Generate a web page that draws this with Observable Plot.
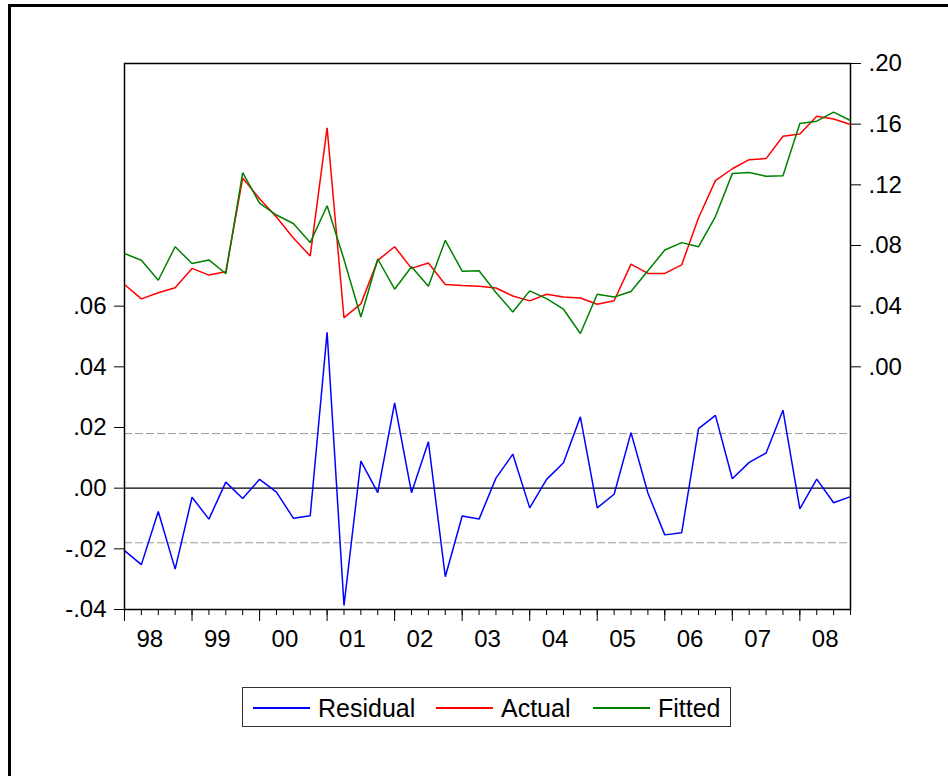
<!DOCTYPE html>
<html>
<head>
<meta charset="utf-8">
<script src="https://cdn.jsdelivr.net/npm/d3@7"></script>
<script src="https://cdn.jsdelivr.net/npm/@observablehq/plot@0.6"></script>
<style>
  html, body { margin: 0; padding: 0; background: #fff; overflow: hidden; }
  #page { position: relative; width: 948px; height: 776px; overflow: hidden; font-family: "Liberation Sans", Arial, sans-serif; }
  #border { position: absolute; left: 8px; top: 4px; width: 1200px; height: 1200px; border-left: 3px solid #000; border-top: 3px solid #000; }
  .layer { position: absolute; left: 0; top: 0; }
  #legend { position: absolute; left: 242px; top: 687px; width: 489px; height: 40px; box-sizing: border-box; border: 1px solid #333; background: #fff; }
  #legend .sw { position: absolute; top: 19px; width: 57px; height: 0; border-top: 2px solid; }
  #legend .lb { position: absolute; top: 0; line-height: 40px; font-size: 25px; color: #000; }
</style>
</head>
<body>
<div id="page">
  <div id="border"></div>
  <div id="chart"></div>
  <div id="legend"></div>
</div>
<script>
// Quarterly sample 1998Q1 - 2008Q4
const startYear = 1998;
const nQuarters = 44;
const quarters = Array.from({length: nQuarters}, (_, i) => startYear + i / 4);

// Actual and fitted values (right axis)
const actual = [
  0.0543, 0.0448, 0.0488, 0.0521, 0.0649, 0.0605, 0.0627, 0.1245,
  0.1108, 0.0988, 0.0850, 0.0731, 0.1576, 0.0324, 0.0415, 0.0702,
  0.0792, 0.0649, 0.0685, 0.0543, 0.0536, 0.0532, 0.0520, 0.0467,
  0.0435, 0.0479, 0.0460, 0.0454, 0.0413, 0.0436, 0.0677, 0.0616,
  0.0616, 0.0672, 0.0983, 0.1228, 0.1306, 0.1366, 0.1373, 0.1520,
  0.1535, 0.1652, 0.1634, 0.1598
];
const fitted = [
  0.0747, 0.0703, 0.0571, 0.0792, 0.0681, 0.0705, 0.0614, 0.1281,
  0.1079, 0.1001, 0.0945, 0.0819, 0.1062, 0.0708, 0.0329, 0.0711,
  0.0512, 0.0660, 0.0532, 0.0834, 0.0631, 0.0633, 0.0490, 0.0362,
  0.0501, 0.0450, 0.0380, 0.0220, 0.0479, 0.0461, 0.0497, 0.0633,
  0.0770, 0.0819, 0.0792, 0.0991, 0.1274, 0.1282, 0.1256, 0.1260,
  0.1605, 0.1620, 0.1679, 0.1624
];
// Residuals (left axis)
const residual = [
  -0.0206, -0.0252, -0.0077, -0.0267, -0.0030, -0.0102, 0.0020, -0.0034,
  0.0029, -0.0013, -0.0099, -0.0091, 0.0514, -0.0387, 0.0089, -0.0015,
  0.0281, -0.0015, 0.0153, -0.0292, -0.0092, -0.0102, 0.0033, 0.0112,
  -0.0065, 0.0029, 0.0084, 0.0235, -0.0065, -0.0020, 0.0183, -0.0016,
  -0.0154, -0.0147, 0.0196, 0.0240, 0.0031, 0.0085, 0.0116, 0.0257,
  -0.0068, 0.0030, -0.0048, -0.0028
];
// Standard error band around the residuals
const seBand = 0.018;

// Axis ticks and labels
const leftTicks = [-0.04, -0.02, 0.00, 0.02, 0.04, 0.06];
const leftTickLabels = ["-.04", "-.02", ".00", ".02", ".04", ".06"];
const rightTicks = [0.00, 0.04, 0.08, 0.12, 0.16, 0.20];
const rightTickLabels = [".00", ".04", ".08", ".12", ".16", ".20"];
const yearLabels = ["98", "99", "00", "01", "02", "03", "04", "05", "06", "07", "08"];

const seriesNames = ["Residual", "Actual", "Fitted"];
const seriesColors = ["#0000ff", "#ff0000", "#008000"];

const rows = quarters.map((q, i) => ({q, actual: actual[i], fitted: fitted[i], residual: residual[i]}));
const yearTicks = yearLabels.map((_, i) => startYear + i);
const labelPos = yearLabels.map((_, i) => startYear + i + 0.375);

const common = {
  width: 948,
  height: 660,
  marginLeft: 124,
  marginRight: 98,
  marginTop: 63,
  marginBottom: 51,
  x: {domain: [startYear, quarters[quarters.length - 1]], axis: null},
  style: {fontFamily: "'Liberation Sans', Arial, sans-serif", fontSize: "24px", background: "transparent", color: "#000"}
};
const lineStyle = {strokeWidth: 1.5, strokeLinejoin: "miter", strokeLinecap: "butt"};

// Residual panel: left scale, frame and time axis
const residualPlot = Plot.plot({
  ...common,
  y: {domain: [-0.04, 0.14], axis: null},
  marks: [
    Plot.ruleY([-seBand, seBand], {stroke: "#9a9a9a", strokeWidth: 1, strokeDasharray: "8,3"}),
    Plot.ruleY([0], {stroke: "#000", strokeWidth: 1.2}),
    Plot.line(rows, {x: "q", y: "residual", stroke: seriesColors[0], ...lineStyle}),
    Plot.frame({stroke: "#000", strokeWidth: 1.5}),
    Plot.axisY(leftTicks, {anchor: "left", tickSize: 10, tickPadding: 8, label: null,
      tickFormat: d => leftTickLabels[leftTicks.indexOf(d)]}),
    Plot.axisX(quarters, {anchor: "bottom", tickSize: 6, label: null, tickFormat: () => ""}),
    Plot.axisX(yearTicks, {anchor: "bottom", tickSize: 12, label: null, tickFormat: () => ""}),
    Plot.axisX(labelPos, {anchor: "bottom", tickSize: 0, tickPadding: 20, label: null,
      tickFormat: d => yearLabels[labelPos.indexOf(d)]})
  ]
});

// Actual / fitted panel: right scale
const levelPlot = Plot.plot({
  ...common,
  y: {domain: [-0.16, 0.20], axis: null},
  marks: [
    Plot.line(rows, {x: "q", y: "actual", stroke: seriesColors[1], ...lineStyle}),
    Plot.line(rows, {x: "q", y: "fitted", stroke: seriesColors[2], ...lineStyle}),
    Plot.axisY(rightTicks, {anchor: "right", tickSize: 10, tickPadding: 8, label: null,
      tickFormat: d => rightTickLabels[rightTicks.indexOf(d)]})
  ]
});

const chart = document.getElementById("chart");
[residualPlot, levelPlot].forEach(svg => { svg.classList.add("layer"); chart.appendChild(svg); });

// Legend
const legend = document.getElementById("legend");
const swatchLeft = [10, 193, 350];
const labelLeft = [75, 258, 415];
seriesNames.forEach((name, i) => {
  const sw = document.createElement("div");
  sw.className = "sw";
  sw.style.left = swatchLeft[i] + "px";
  sw.style.borderTopColor = seriesColors[i];
  legend.appendChild(sw);
  const lb = document.createElement("div");
  lb.className = "lb";
  lb.style.left = labelLeft[i] + "px";
  lb.textContent = name;
  legend.appendChild(lb);
});
</script>
</body>
</html>
